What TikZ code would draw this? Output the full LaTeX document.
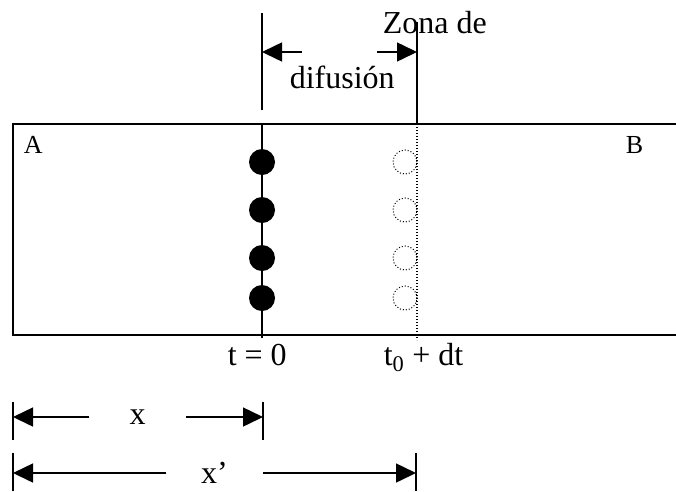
\documentclass[tikz,border=0pt]{standalone}
\usepackage{fontspec}
\setmainfont{Liberation Serif}
\usetikzlibrary{arrows.meta}
\begin{document}
\begin{tikzpicture}[x=1pt,y=-1pt,line width=1.5pt,
  dim/.style={-{Triangle[length=20pt,width=19pt]}},
  lbl/.style={inner sep=0pt,font=\fontsize{32}{36}\selectfont},
  ext/.style={inner sep=0pt,font=\fontsize{26}{30}\selectfont},
  bola/.style={circle,fill=black,inner sep=0pt,minimum size=26pt},
  hueco/.style={circle,draw,dotted,line width=1pt,inner sep=0pt,minimum size=24pt}]
\useasboundingbox (0,0) rectangle (676,491);
% tubo A-B
\draw (676,124) -- (13,124) -- (13,335) -- (676,335);
\node[ext,anchor=base west] (A) at (23,153) {A};
\node[ext,anchor=base west] (B) at (625,153) {B};
% frentes
\coordinate (t0a) at (262,124); \coordinate (t0b) at (262,338);
\coordinate (t1a) at (417,124); \coordinate (t1b) at (417,340);
\coordinate (za) at (262,13); \coordinate (zb) at (262,110);
\coordinate (zc) at (417,22);
\draw (t0a) -- (t0b); \draw (za) -- (zb); \draw (zc) -- (t1a);
\draw[line width=1.2pt,dash pattern=on 1.2pt off 1.8pt] (t1a) -- (t1b);
\foreach \y [count=\i] in {162,210,258,298}{
  \node[bola] (b\i) at (262,\y) {};
  \node[hueco] (h\i) at (405,\y) {};}
\node[lbl,anchor=base west] (t0) at (227,365) {t = 0};
\node[lbl,anchor=base west] (t1) at (383,365) {t\textsubscript{0} + dt};
% zona de difusion
\node[lbl,anchor=base west] (zona) at (382,33) {Zona de};
\node[lbl,anchor=base west] (dif) at (289,88) {difusión};
\coordinate (zl) at (262,52); \coordinate (zr) at (417,52);
\coordinate (gl) at (302,52); \coordinate (gr) at (377,52);
\draw[dim] (gl) -- (zl); \draw[dim] (gr) -- (zr);
% cotas x y x'
\coordinate (p0) at (13,402); \coordinate (p1) at (13,440);
\coordinate (p2) at (263,402); \coordinate (p3) at (263,440);
\coordinate (q0) at (13,453); \coordinate (q1) at (13,491);
\coordinate (q2) at (416,453); \coordinate (q3) at (416,491);
\draw (p0) -- (p1); \draw (p2) -- (p3); \draw (q0) -- (q1); \draw (q2) -- (q3);
\node[lbl,minimum width=95pt] (x) at (137.5,417) {x};
\node[lbl,minimum width=95pt] (xp) at (214.5,473) {x’};
\draw[dim] (x.west) -- (p0 |- x); \draw[dim] (x.east) -- (p2 |- x);
\draw[dim] (xp.west) -- (q0 |- xp); \draw[dim] (xp.east) -- (q2 |- xp);
\end{tikzpicture}
\end{document}
